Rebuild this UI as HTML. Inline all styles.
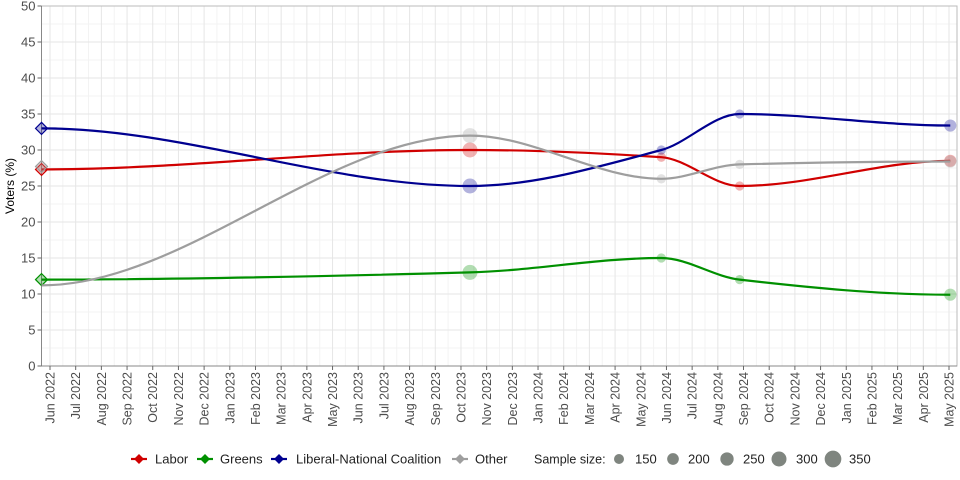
<!DOCTYPE html>
<html><head><meta charset="utf-8"><style>
body{margin:0;background:#fff;}
svg{display:block;font-family:"Liberation Sans",sans-serif;}
</style></head><body>
<svg id="chart" width="960" height="480"></svg>
<script>
const months=["Jun 2022","Jul 2022","Aug 2022","Sep 2022","Oct 2022","Nov 2022","Dec 2022","Jan 2023","Feb 2023","Mar 2023","Apr 2023","May 2023","Jun 2023","Jul 2023","Aug 2023","Sep 2023","Oct 2023","Nov 2023","Dec 2023","Jan 2024","Feb 2024","Mar 2024","Apr 2024","May 2024","Jun 2024","Jul 2024","Aug 2024","Sep 2024","Oct 2024","Nov 2024","Dec 2024","Jan 2025","Feb 2025","Mar 2025","Apr 2025","May 2025"];
const yTicks=[0,5,10,15,20,25,30,35,40,45,50];
const pollDates=[-0.33,16.35,23.8,26.85,35.05];
const sampleSizes=[300,350,150,150,250];
const laborVals=[27.3,30,29,25,28.5];
const greensVals=[12,13,15,12,9.9];
const lnpVals=[33,25,30,35,33.4];
const otherVals=[27.7,32,26,28,28.4];
const otherLine=[11.2,32,26,28,28.4];
const legendSizes=[150,200,250,300,350];

const NS="http://www.w3.org/2000/svg";
const svg=document.getElementById('chart');
const L=41.5,R=957,T=6,B=366;
const x=m=>50+m*(949-50)/35;
const y=v=>B-v*(B-T)/50;
const rr=s=>2.5+s/70;
function el(t,a,p){const e=document.createElementNS(NS,t);for(const k in a)e.setAttribute(k,a[k]);(p||svg).appendChild(e);return e;}

const grid=el('g',{});


for(let v=2.5;v<50;v+=5)el('line',{x1:L,x2:R,y1:y(v),y2:y(v),stroke:'#f3f3f3','stroke-width':1},grid);
for(let i=0;i<months.length;i++){if(i<months.length-1)el('line',{x1:x(i+0.5),x2:x(i+0.5),y1:T,y2:B,stroke:'#f3f3f3'},grid);}
yTicks.forEach(v=>el('line',{x1:L,x2:R,y1:y(v),y2:y(v),stroke:'#e6e6e6'},grid));
months.forEach((m,i)=>el('line',{x1:x(i),x2:x(i),y1:T,y2:B,stroke:'#e6e6e6'},grid));
el('rect',{x:L,y:T,width:R-L,height:B-T,fill:'none',stroke:'#bbb'});
el('line',{x1:L,x2:L,y1:T,y2:B,stroke:'#888'});
el('line',{x1:L,x2:R,y1:B,y2:B,stroke:'#888'});

yTicks.forEach(v=>{
  el('line',{x1:L-4,x2:L,y1:y(v),y2:y(v),stroke:'#666'});
  const t=el('text',{x:L-6,y:y(v)+4.5,'text-anchor':'end','font-size':13,fill:'#4d4d4d'});
  t.textContent=v;
  
  
});
months.forEach((m,i)=>{
  el('line',{x1:x(i),x2:x(i),y1:B,y2:B+4,stroke:'#666'});
  const t=el('text',{transform:`translate(${x(i)+4.5},${B+6}) rotate(-90)`,'text-anchor':'end','font-size':12.5,fill:'#4d4d4d'});
  t.textContent=m;
  
  
});
const yt=el('text',{transform:`translate(14,${(T+B)/2}) rotate(-90)`,'text-anchor':'middle','font-size':12,fill:'#000'});
yt.textContent='Voters (%)';



function smooth(px,py){
  const n=px.length,d=[],m=[];
  for(let i=0;i<n-1;i++)d.push((py[i+1]-py[i])/(px[i+1]-px[i]));
  m[0]=0;m[n-1]=0;
  for(let i=1;i<n-1;i++)m[i]=(d[i-1]*d[i]<=0)?0:2/(1/d[i-1]+1/d[i]);
  let s=`M${px[0]},${py[0]}`;
  for(let i=0;i<n-1;i++){const h=(px[i+1]-px[i])/3;s+=` C${px[i]+h},${py[i]+m[i]*h} ${px[i+1]-h},${py[i+1]-m[i+1]*h} ${px[i+1]},${py[i+1]}`;}
  return s;
}
const series=[
 {name:'labor',c:'#d00000',pts:laborVals,line:laborVals},
 {name:'greens',c:'#009000',pts:greensVals,line:greensVals},
 {name:'lnp',c:'#000090',pts:lnpVals,line:lnpVals},
 {name:'other',c:'#9e9e9e',pts:otherVals,line:otherLine}
];
series.forEach(s=>{
  const g=el('g',{});
  
  
  s.pts.forEach((v,i)=>{
    const cx=x(pollDates[i]),cy=y(v);
    if(i===0){
      const p=el('path',{d:`M${cx-6},${cy} L${cx},${cy-6} L${cx+6},${cy} L${cx},${cy+6}Z`,fill:s.c,'fill-opacity':0.3,stroke:s.c,'stroke-width':1.2},g);
      
      
    }else{
      const c=el('circle',{cx:cx,cy:cy,r:rr(sampleSizes[i]),fill:s.c,'fill-opacity':0.3},g);
      
      
    }
  });
  const path=el('path',{d:smooth(pollDates.map(x),s.line.map(y)),fill:'none',stroke:s.c,'stroke-width':2.2},g);
  
  
});

const leg=el('g',{});


const items=[['Labor','#d00000',139,155],['Greens','#009000',205,220],['Liberal-National Coalition','#000090',279,296],['Other','#9e9e9e',460,475]];
items.forEach(([n,c,lx,tx])=>{
  const g=el('g',{},leg);
  
  
  el('line',{x1:lx-8,x2:lx+8,y1:459,y2:459,stroke:c,'stroke-width':2.2},g);
  el('path',{d:`M${lx-5},459 L${lx},454 L${lx+5},459 L${lx},464Z`,fill:c},g);
  const t=el('text',{x:tx,y:463.5,'font-size':13,fill:'#222'},g);t.textContent=n;
});
const st=el('text',{x:534,y:463.5,'font-size':12.5,fill:'#222'},leg);st.textContent='Sample size:';
const lxs=[619,673,727,779,833];
const txs=[635,688,743,796,849];
legendSizes.forEach((s,i)=>{
  const g=el('g',{},leg);
  
  
  el('circle',{cx:lxs[i],cy:459,r:2.5+s/60,fill:'#7f857f'},g);
  const t=el('text',{x:txs[i],y:463.5,'font-size':13,fill:'#222'},g);t.textContent=s;
});
</script>
</body></html>
